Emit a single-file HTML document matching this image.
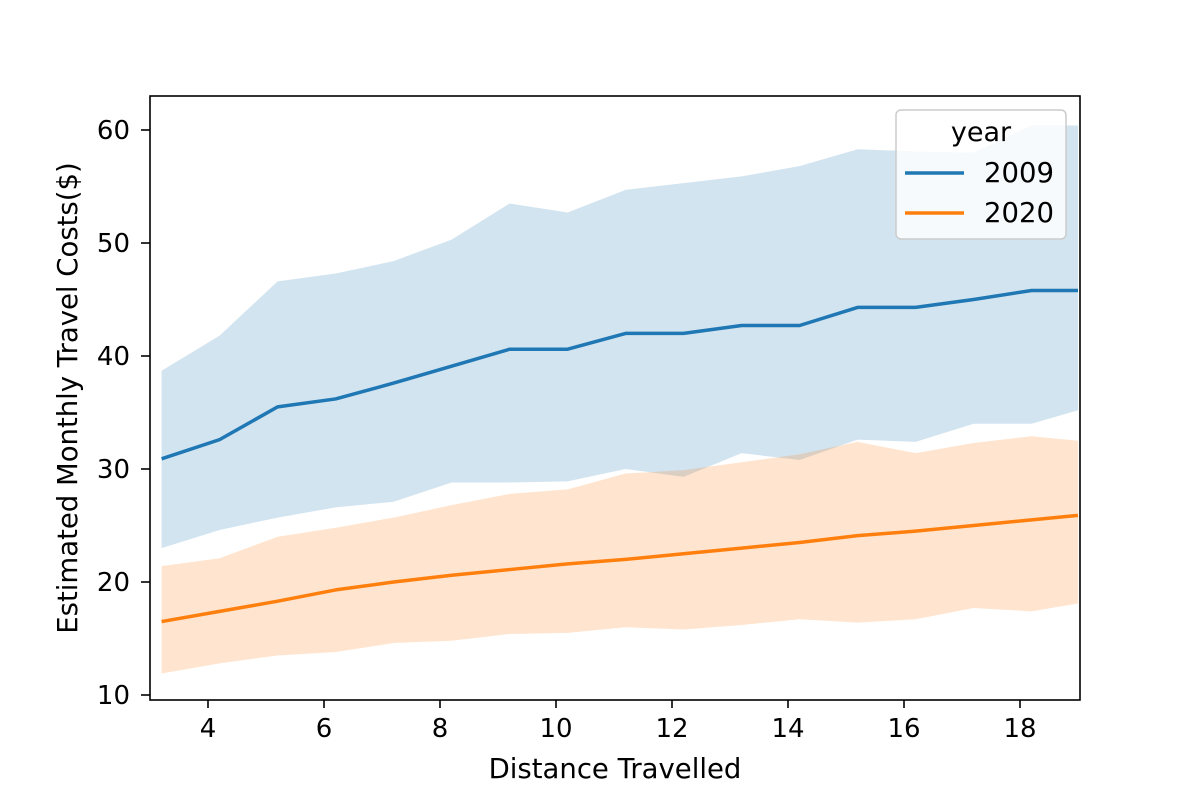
<!DOCTYPE html>
<html><head><meta charset="utf-8">
<style>
html,body{margin:0;padding:0;background:#fff;}
svg text{font-family:"DejaVu Sans","Liberation Sans",sans-serif;fill:#000;}
</style></head>
<body>
<svg id="chart" width="1200" height="800" viewBox="0 0 1200 800" xmlns="http://www.w3.org/2000/svg">
<defs><clipPath id="plotclip"><rect x="150" y="96" width="930" height="604"/></clipPath></defs>
<rect x="0" y="0" width="1200" height="800" fill="#fff"/>
<g id="bands" clip-path="url(#plotclip)"></g>
<g id="lines" clip-path="url(#plotclip)"></g>
<g id="axes"></g>
<rect x="150" y="96" width="930" height="604" fill="none" stroke="#000" stroke-width="1.6"/>
<text x="615" y="778" font-size="27.5" text-anchor="middle">Distance Travelled</text>
<text transform="translate(77,398) rotate(-90)" font-size="27.5" text-anchor="middle">Estimated Monthly Travel Costs($)</text>
<g>
<rect x="896" y="110" width="170" height="129" rx="5" fill="#fff" fill-opacity="0.8" stroke="#ccc" stroke-width="1.5"/>
<text x="981" y="141" font-size="27" text-anchor="middle">year</text>
<line x1="905" y1="173" x2="964" y2="173" stroke="#1f77b4" stroke-width="3.5"/>
<text x="984" y="182" font-size="27.5">2009</text>
<line x1="905" y1="213" x2="964" y2="213" stroke="#ff7f0e" stroke-width="3.5"/>
<text x="984" y="222" font-size="27.5">2020</text>
</g>
</svg>
<script>
const xs = [3.2,4.2,5.2,6.2,7.2,8.2,9.2,10.2,11.2,12.2,13.2,14.2,15.2,16.2,17.2,18.2,19.0];
const mean2009 = [30.9,32.6,35.5,36.2,37.6,39.1,40.6,40.6,42.0,42.0,42.7,42.7,44.3,44.3,45.0,45.8,45.8];
const upper2009 = [38.7,41.8,46.6,47.3,48.4,50.3,53.5,52.7,54.7,55.3,55.9,56.8,58.3,58.1,58.0,60.4,60.4];
const lower2009 = [23.0,24.6,25.7,26.6,27.1,28.8,28.8,28.9,30.0,29.3,31.4,30.8,32.6,32.4,34.0,34.0,35.2];
const mean2020 = [16.5,17.4,18.3,19.3,20.0,20.6,21.1,21.6,22.0,22.5,23.0,23.5,24.1,24.5,25.0,25.5,25.9];
const upper2020 = [21.4,22.1,24.0,24.8,25.7,26.8,27.8,28.2,29.6,29.9,30.6,31.3,32.4,31.4,32.3,32.9,32.5];
const lower2020 = [11.9,12.8,13.5,13.8,14.6,14.8,15.4,15.5,16.0,15.8,16.2,16.7,16.4,16.7,17.7,17.4,18.1];
const xTicks = [4,6,8,10,12,14,16,18];
const yTicks = [10,20,30,40,50,60];

const NS = "http://www.w3.org/2000/svg";
function X(v){ return 208 + (v-4)*58; }
function Y(v){ return 695 - (v-10)*11.3; }
function mk(tag, attrs, parent){ const e=document.createElementNS(NS,tag); for(const k in attrs) e.setAttribute(k,attrs[k]); parent.appendChild(e); return e; }

const bands=document.getElementById('bands'), lines=document.getElementById('lines'), axes=document.getElementById('axes');
function band(up, lo, color, name){
  let d = xs.map((x,i)=>(i?'L':'M')+X(x)+','+Y(up[i])).join(' ');
  for(let i=xs.length-1;i>=0;i--) d+=' L'+X(xs[i])+','+Y(lo[i]);
  const p = mk('path',{d:d+' Z',fill:color,'fill-opacity':0.2,stroke:'none'},bands);
  
  
}
function line(vals, color, name){
  const d = xs.map((x,i)=>(i?'L':'M')+X(x)+','+Y(vals[i])).join(' ');
  const p = mk('path',{d:d,fill:'none',stroke:color,'stroke-width':3.5,'stroke-linejoin':'round'},lines);
  
  
}
band(upper2009, lower2009, '#1f77b4', 'band-2009');
band(upper2020, lower2020, '#ff7f0e', 'band-2020');
line(mean2009, '#1f77b4', 'line-2009');
line(mean2020, '#ff7f0e', 'line-2020');

xTicks.forEach(t=>{
  const x=X(t);
  mk('line',{x1:x,y1:700,x2:x,y2:708,stroke:'#000','stroke-width':1.6},axes);
  const tx=mk('text',{x:x,y:737,'font-size':26,'text-anchor':'middle'},axes);
  tx.textContent=t;
  
  
});
yTicks.forEach(t=>{
  const y=Y(t);
  mk('line',{x1:141,y1:y,x2:150,y2:y,stroke:'#000','stroke-width':1.6},axes);
  const tx=mk('text',{x:130,y:y+9,'font-size':26,'text-anchor':'end'},axes);
  tx.textContent=t;
  
  
});
</script>
</body></html>
